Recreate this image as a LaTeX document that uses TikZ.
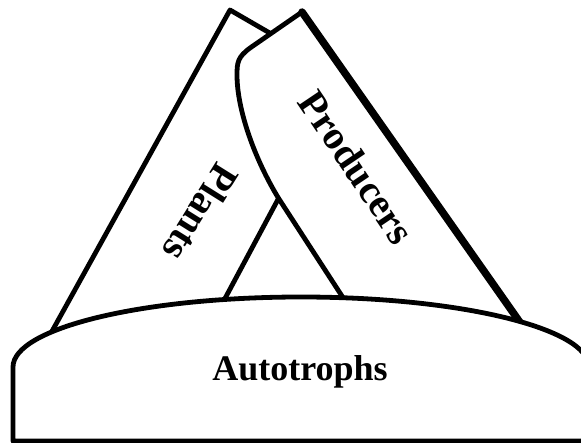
\documentclass[tikz,border=0pt]{standalone}
\usepackage{fontspec}
\setmainfont{Liberation Serif}
\begin{document}
\begin{tikzpicture}[x=1pt,y=-1pt,
  outline/.style={draw=black,fill=white,line width=4.8pt,line join=round},
  heavy/.style={draw=black,line width=7.5pt,line cap=round},
  lbl/.style={font=\fontsize{36}{42}\selectfont\bfseries,inner sep=0pt},
  tilted/.style={font=\fontsize{40}{46}\selectfont\bfseries,inner sep=0pt}]
\useasboundingbox (0,0) rectangle (581,443);
\clip (0,0) rectangle (581,443);
% Plants band
\draw[outline] (230,10) -- (344,76) -- (160,420) -- (25,380) -- cycle;
% Producers band
\draw[outline] (302,12) -- (250,48) .. controls (238,57) and (237,62) .. (237,75)
   .. controls (237,110) and (255,160) .. (279,199) -- (375,347) -- (545,358) -- cycle;
\coordinate (ptop) at (302,12);
\coordinate (pbot) at (545,358);
\draw[heavy] (ptop) -- (pbot);
% Autotrophs base
\draw[outline] (13,441) -- (13,367) arc[start angle=180,end angle=0,x radius=288pt,y radius=70pt]
   -- (589,441) -- cycle;
\node[lbl] (auto) at (300,372) {Autotrophs};
\node[tilted,rotate=-56] (prod) at (357,167) {Producers};
\node[tilted,rotate=-122] (plants) at (201,213) {Plants};
\end{tikzpicture}
\end{document}
